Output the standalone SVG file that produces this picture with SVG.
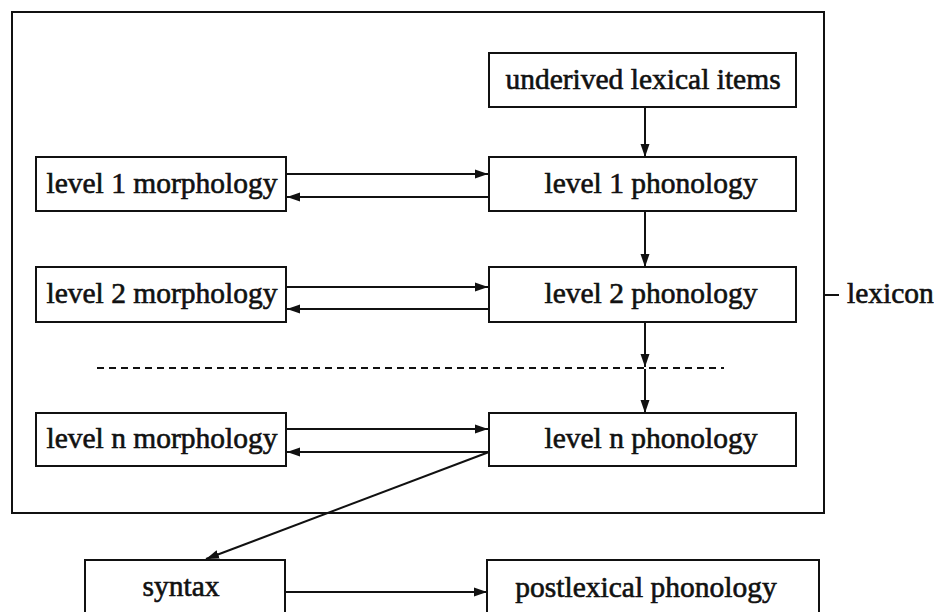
<svg xmlns="http://www.w3.org/2000/svg" width="934" height="612" viewBox="0 0 934 612">
  <defs>
    <style>
      .box { fill: #fff; stroke: #111; stroke-width: 2; }
      .frame { fill: none; stroke: #111; stroke-width: 2; }
      .lbl { font-size: 29.5px; fill: #111; stroke: #111; stroke-width: 0.6; }
      .edge { fill: none; stroke: #111; stroke-width: 2; }
      .dash { fill: none; stroke: #111; stroke-width: 2; stroke-dasharray: 7 5; }
    </style>
    <marker id="arrow" markerUnits="userSpaceOnUse" markerWidth="14" markerHeight="10" refX="13" refY="5" orient="auto">
      <path d="M0,0.5 L13,5 L0,9.5 Z" fill="#111"/>
    </marker>
  </defs>

  <rect width="934" height="612" fill="#fff"/>

  <g font-family="Liberation Serif, Times New Roman, serif">
  <!-- lexicon frame -->
  <g id="lexicon">
    <rect class="frame" x="12" y="12" width="812" height="501"/>
    <line class="edge" x1="824" y1="295" x2="839" y2="295"/>
    <text class="lbl" x="847" y="303">lexicon</text>
  </g>

  <!-- connectors -->
  <g id="connectors">
    <line class="edge" x1="645" y1="107" x2="645" y2="157" marker-end="url(#arrow)"/>
    <line class="edge" x1="645" y1="211" x2="645" y2="267" marker-end="url(#arrow)"/>
    <line class="edge" x1="645" y1="322" x2="645" y2="367" marker-end="url(#arrow)"/>
    <line class="edge" x1="645" y1="369" x2="645" y2="413" marker-end="url(#arrow)"/>
    <line class="dash" x1="97" y1="368" x2="724" y2="368"/>

    <line class="edge" x1="286" y1="174" x2="488" y2="174" marker-end="url(#arrow)"/>
    <line class="edge" x1="489" y1="197" x2="287" y2="197" marker-end="url(#arrow)"/>
    <line class="edge" x1="286" y1="287" x2="488" y2="287" marker-end="url(#arrow)"/>
    <line class="edge" x1="489" y1="309" x2="287" y2="309" marker-end="url(#arrow)"/>
    <line class="edge" x1="286" y1="429" x2="488" y2="429" marker-end="url(#arrow)"/>
    <line class="edge" x1="489" y1="452" x2="287" y2="452" marker-end="url(#arrow)"/>

    <line class="edge" x1="489" y1="452" x2="206" y2="559" marker-end="url(#arrow)"/>
    <line class="edge" x1="285" y1="592" x2="487" y2="592" marker-end="url(#arrow)"/>
  </g>

  <!-- nodes -->
  <g id="underived">
    <rect class="box" x="489" y="53" width="307" height="54"/>
    <text class="lbl" x="643" y="89" text-anchor="middle">underived lexical items</text>
  </g>
  <g id="phon1">
    <rect class="box" x="489" y="157" width="307" height="54"/>
    <text class="lbl" x="651" y="193" text-anchor="middle">level 1 phonology</text>
  </g>
  <g id="phon2">
    <rect class="box" x="489" y="267" width="307" height="55"/>
    <text class="lbl" x="651" y="303" text-anchor="middle">level 2 phonology</text>
  </g>
  <g id="phonN">
    <rect class="box" x="489" y="413" width="307" height="53"/>
    <text class="lbl" x="651" y="448" text-anchor="middle">level n phonology</text>
  </g>
  <g id="morph1">
    <rect class="box" x="36" y="157" width="250" height="54"/>
    <text class="lbl" x="162" y="193" text-anchor="middle">level 1 morphology</text>
  </g>
  <g id="morph2">
    <rect class="box" x="36" y="267" width="250" height="55"/>
    <text class="lbl" x="162" y="303" text-anchor="middle">level 2 morphology</text>
  </g>
  <g id="morphN">
    <rect class="box" x="36" y="413" width="250" height="53"/>
    <text class="lbl" x="162" y="448" text-anchor="middle">level n morphology</text>
  </g>
  <g id="syntax">
    <rect class="box" x="85" y="560" width="200" height="60"/>
    <text class="lbl" x="181" y="596" text-anchor="middle">syntax</text>
  </g>
  <g id="postlexical">
    <rect class="box" x="487" y="560" width="332" height="60"/>
    <text class="lbl" x="646" y="597" text-anchor="middle">postlexical phonology</text>
  </g>
  </g>
</svg>
